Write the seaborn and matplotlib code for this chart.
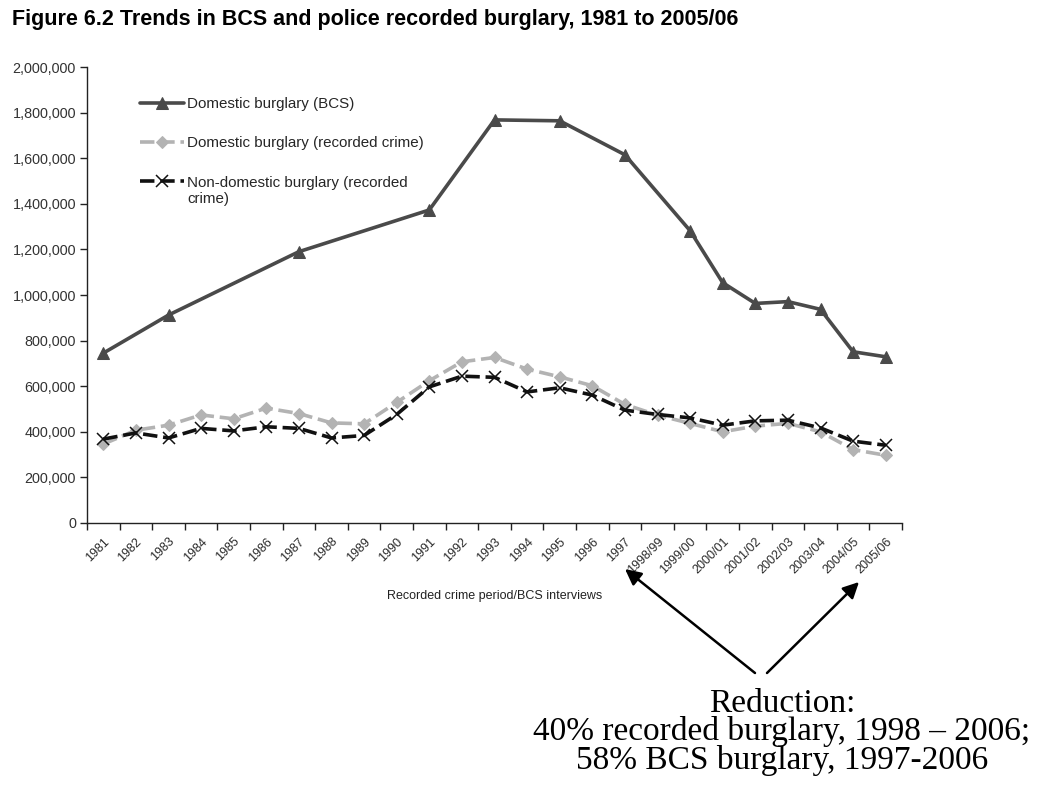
import numpy as np
import pandas as pd
import matplotlib
matplotlib.use('Agg')
import matplotlib.pyplot as plt
from matplotlib.ticker import FuncFormatter
import seaborn as sns

# recording periods on the x axis
periods = ['1981', '1982', '1983', '1984', '1985', '1986', '1987', '1988', '1989',
           '1990', '1991', '1992', '1993', '1994', '1995', '1996', '1997',
           '1998/99', '1999/00', '2000/01', '2001/02', '2002/03', '2003/04',
           '2004/05', '2005/06']

# BCS only ran in some years, NaN where there was no survey
bcs_domestic = [745000, np.nan, 912000, np.nan, np.nan, np.nan, 1190000, np.nan, np.nan,
                np.nan, 1373000, np.nan, 1768000, np.nan, 1764000, np.nan, 1615000,
                np.nan, 1282000, 1054000, 963000, 971000, 937000, 751000, 729000]
recorded_domestic = [346000, 407000, 429000, 474000, 457000, 504000, 480000, 439000, 435000,
                     529000, 624000, 707000, 726000, 675000, 641000, 602000, 520000,
                     473000, 437000, 400000, 425000, 437000, 400000, 322000, 297000]
recorded_nondomestic = [368000, 395000, 373000, 415000, 404000, 422000, 415000, 373000, 384000,
                        476000, 597000, 644000, 639000, 575000, 593000, 561000, 495000,
                        476000, 461000, 429000, 448000, 451000, 417000, 359000, 341000]

df = pd.DataFrame({
    'pos': np.arange(len(periods)),
    'period': periods,
    'bcs': bcs_domestic,
    'rec_dom': recorded_domestic,
    'rec_nondom': recorded_nondomestic,
})

sns.set_theme(style='white')
plt.rcParams['font.family'] = ['Liberation Sans', 'DejaVu Sans']

fig = plt.figure(figsize=(10.52, 8.05), dpi=100)
ax = fig.add_axes([87 / 1052, 1 - 523 / 805, 815 / 1052, 456 / 805])

bcs = df.dropna(subset=['bcs'])
sns.lineplot(data=bcs, x='pos', y='bcs', ax=ax, color='#4a4a4a', lw=2.6,
             marker='^', markersize=9, markeredgecolor='#4a4a4a',
             label='Domestic burglary (BCS)')
sns.lineplot(data=df, x='pos', y='rec_dom', ax=ax, color='#b3b3b3', lw=2.6,
             linestyle=(0, (4, 1.6)), marker='D', markersize=6, markeredgecolor='#b3b3b3',
             label='Domestic burglary (recorded crime)')
sns.lineplot(data=df, x='pos', y='rec_nondom', ax=ax, color='#111111', lw=2.6,
             linestyle=(0, (4, 1.6)), marker='x', markersize=9, markeredgewidth=1.1,
             markeredgecolor='#111111',
             label='Non-domestic burglary (recorded')

ax.set_xlim(-0.5, len(periods) - 0.5)
ax.set_ylim(0, 2000000)
ax.set_yticks(np.arange(0, 2000001, 200000))
ax.yaxis.set_major_formatter(FuncFormatter(lambda v, p: f'{int(v):,}'))

# category axis: tick marks between categories, labels in the middle
ax.set_xticks(np.arange(-0.5, len(periods), 1))
ax.set_xticklabels([])
ax.set_xticks(np.arange(len(periods)), minor=True)
ax.set_xticklabels(periods, minor=True, rotation=45, ha='right', rotation_mode='anchor',
                   fontsize=9, color='#2a2a2a')
ax.tick_params(axis='x', which='major', length=5, width=1, color='#222222', bottom=True)
ax.tick_params(axis='x', which='minor', length=0, pad=9, bottom=True)
ax.tick_params(axis='y', length=5, width=1, color='#222222', left=True,
               labelsize=10.4, labelcolor='#333333', pad=3)

sns.despine(ax=ax)
for s in ['left', 'bottom']:
    ax.spines[s].set_color('#222222')
    ax.spines[s].set_linewidth(1)

ax.set_ylabel('')
ax.set_xlabel('Recorded crime period/BCS interviews', fontsize=9, color='#222222', labelpad=10)

leg = ax.legend(frameon=False, loc='upper left', bbox_to_anchor=(0.065, 0.934), fontsize=10.9,
                handlelength=2.9, handletextpad=0.2, labelspacing=1.67, borderaxespad=0, borderpad=0)

# the last legend label wraps onto a second line under its text, handle stays on the first line
fig.canvas.draw()
legend_text = leg.get_texts()[2]
bb = legend_text.get_window_extent()
fig.text(bb.x0 / fig.bbox.width, (bb.y0 - 2) / fig.bbox.height, 'crime)',
         fontsize=10.9, color=legend_text.get_color(), va='top', ha='left')

fig.text(12 / 1052, 1 - 25 / 805,
         'Figure 6.2 Trends in BCS and police recorded burglary, 1981 to 2005/06',
         fontsize=15.5, fontweight='bold', color='black', va='baseline')

# arrows pointing at the two period labels
arrow = dict(arrowstyle='-|>', color='black', lw=1.8, mutation_scale=24, shrinkA=0, shrinkB=0)
fig.add_artist(matplotlib.patches.FancyArrowPatch((755 / 1052, 1 - 673 / 805), (625 / 1052, 1 - 569 / 805),
                                                  transform=fig.transFigure, **arrow))
fig.add_artist(matplotlib.patches.FancyArrowPatch((767 / 1052, 1 - 673 / 805), (859 / 1052, 1 - 582 / 805),
                                                  transform=fig.transFigure, **arrow))

fig.text(782 / 1052, 1 - 688 / 805,
         'Reduction:\n40% recorded burglary, 1998 \u2013 2006;\n58% BCS burglary, 1997-2006',
         ha='center', va='top', fontsize=24, linespacing=0.9,
         family=['Liberation Serif', 'DejaVu Serif'], color='black')

fig.savefig('out.png', dpi=100)
